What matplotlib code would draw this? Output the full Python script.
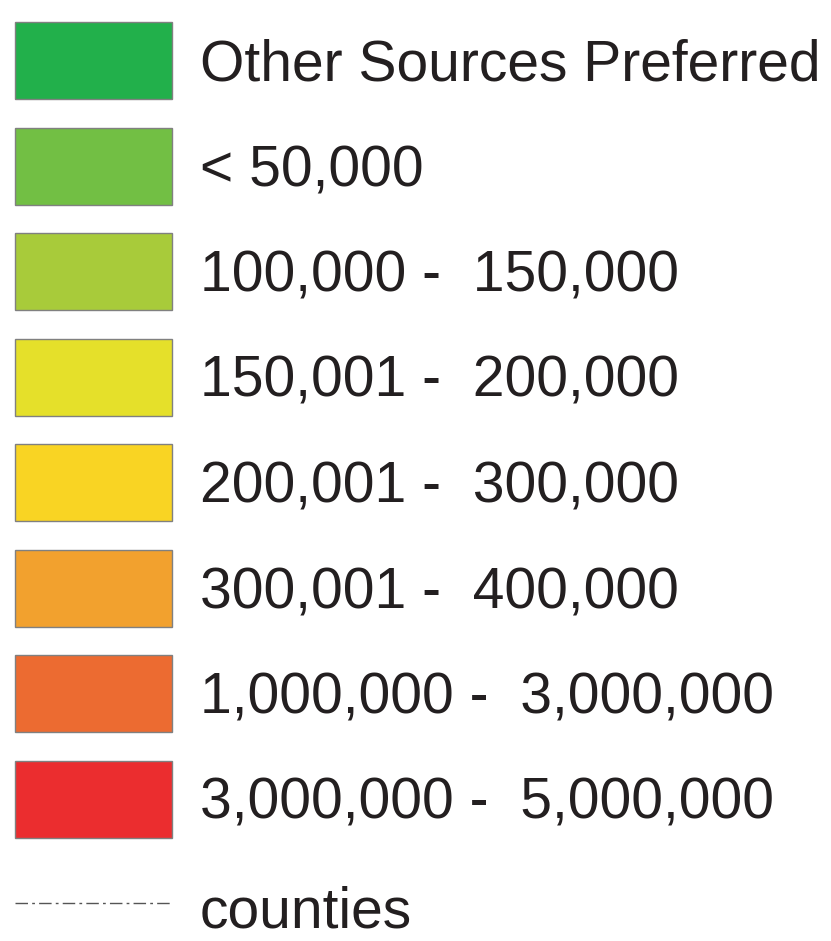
import matplotlib.pyplot as plt

labels = ["Other Sources Preferred", "< 50,000", "100,000 -  150,000",
          "150,001 -  200,000", "200,001 -  300,000", "300,001 -  400,000",
          "1,000,000 -  3,000,000", "3,000,000 -  5,000,000"]
colors = ["#22B04B", "#72BF44", "#A8CB3A", "#E5E02A",
          "#F9D423", "#F2A12E", "#EC6B31", "#EB2D2F"]
line_label = "counties"

fig = plt.figure(figsize=(8.31, 9.41), dpi=100)
ax = fig.add_axes([0, 0, 1, 1])
ax.set_xlim(0, 831)
ax.set_ylim(941, 0)
ax.axis("off")

step = 105.5
centers = [60.5 + i * step for i in range(len(labels))]

ax.barh(centers, 157, left=15, height=77, color=colors,
        edgecolor="#808080", linewidth=1)

txt = dict(fontsize=41, family="Liberation Sans", color="#231F20", va="baseline")
for c, lab in zip(centers, labels):
    ax.text(200, c + 20, lab, **txt)

# dash-dot boundary line for counties
ly = 903
ax.plot([15, 172], [ly, ly], color="#555555", lw=1, ls=(0, (9, 3, 2, 3)))
ax.text(200, 927, line_label, **txt)

fig.savefig("out.png", dpi=100)
